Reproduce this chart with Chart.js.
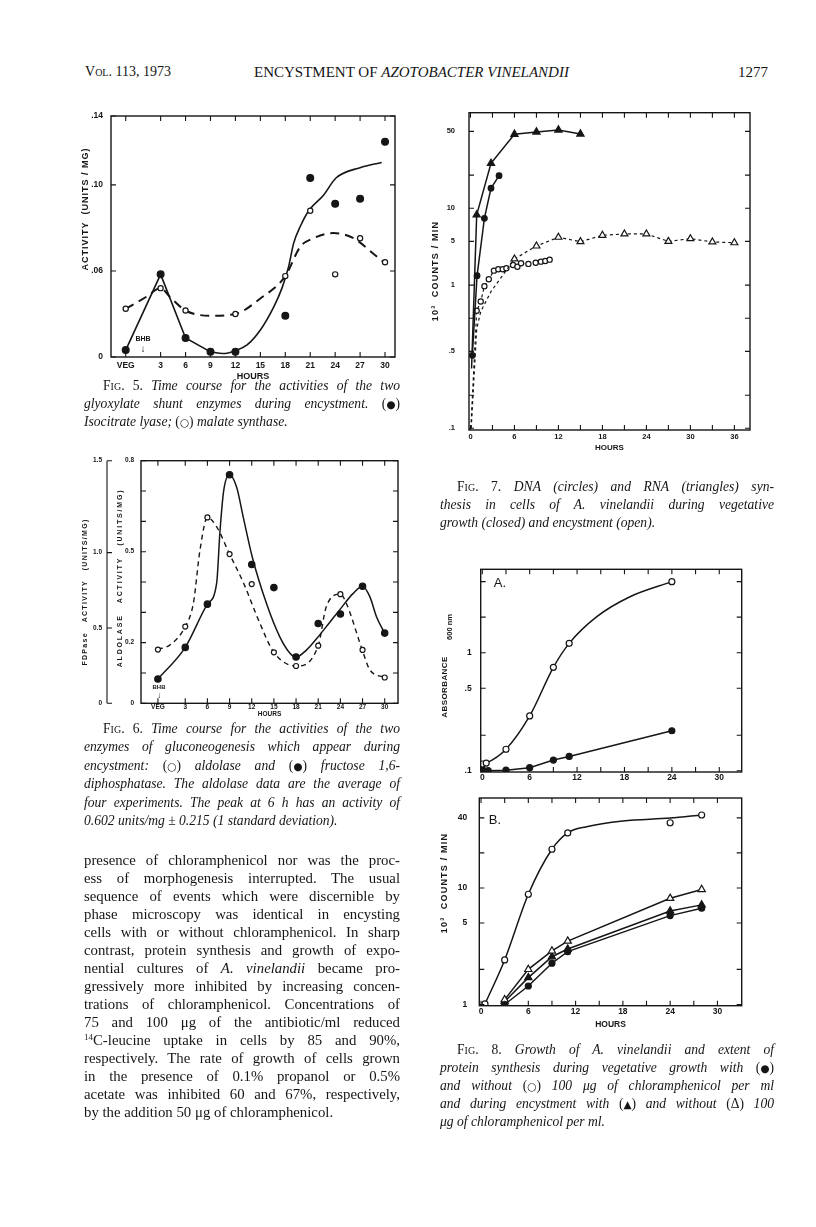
<!DOCTYPE html>
<html>
<head>
<meta charset="utf-8">
<title>Encystment of Azotobacter vinelandii, Figs. 5-8</title>
<script src="https://cdn.jsdelivr.net/npm/chart.js"></script>
<style>
  html, body { margin: 0; padding: 0; background: #fff; }
  #page { position: relative; width: 816px; height: 1227px; overflow: hidden; background: #fff;
          color: #151515; font-family: 'Liberation Serif', 'DejaVu Serif', serif; }
  #page canvas { position: absolute; left: 0; top: 0; }
  .blk { position: absolute; }
  .blk > div { text-align: justify; text-align-last: justify; white-space: nowrap; }
  .blk > div.end { text-align-last: left; }
  .body { font-size: 14.8px; line-height: 18px; }
  .cap { font-size: 13.6px; line-height: 18px; font-style: italic; }
  .cap .r { font-style: normal; }
  .key { display: inline-block; font-style: normal; }
  .sym { font-family: 'DejaVu Sans', sans-serif; font-style: normal; font-size: 10.5px; }
  .sc { font-variant: small-caps; }
  sup { font-size: 9px; line-height: 0; vertical-align: 5px; }
  .hdr { position: absolute; top: 63px; font-size: 14px; line-height: 18px; white-space: nowrap; }
</style>
</head>
<body>
<div id="page">
  <div class="hdr" style="left:85px">V<span class="sc">ol</span>. 113, 1973</div>
  <div class="hdr" style="left:254px;font-size:15px">ENCYSTMENT OF <i>AZOTOBACTER VINELANDII</i></div>
  <div class="hdr" style="left:738px;font-size:15px">1277</div>

  <canvas id="fig5" width="816" height="1227"></canvas>
  <canvas id="fig6" width="816" height="1227"></canvas>
  <canvas id="fig7" width="816" height="1227"></canvas>
  <canvas id="fig8a" width="816" height="1227"></canvas>
  <canvas id="fig8b" width="816" height="1227"></canvas>

  <div class="blk cap" style="left:84px;top:377px;width:316px">
    <div style="padding-left:19px"><span class="r">F<span class="sc">ig</span>. 5.</span> Time course for the activities of the two</div>
    <div>glyoxylate shunt enzymes during encystment. <span class="key">(<span class="sym">●</span>)</span></div>
    <div class="end">Isocitrate lyase; <span class="key">(<span class="sym">○</span>)</span> malate synthase.</div>
  </div>

  <div class="blk cap" style="left:84px;top:720px;width:316px;line-height:18.4px">
    <div style="padding-left:19px"><span class="r">F<span class="sc">ig</span>. 6.</span> Time course for the activities of the two</div>
    <div>enzymes of gluconeogenesis which appear during</div>
    <div>encystment: <span class="key">(<span class="sym">○</span>)</span> aldolase and <span class="key">(<span class="sym">●</span>)</span> fructose 1,6-</div>
    <div>diphosphatase. The aldolase data are the average of</div>
    <div>four experiments. The peak at 6 h has an activity of</div>
    <div class="end">0.602 units/mg ± 0.215 (1 standard deviation).</div>
  </div>

  <div class="blk body" style="left:84px;top:851px;width:316px">
    <div>presence of chloramphenicol nor was the proc-</div>
    <div>ess of morphogenesis interrupted. The usual</div>
    <div>sequence of events which were discernible by</div>
    <div>phase microscopy was identical in encysting</div>
    <div>cells with or without chloramphenicol. In sharp</div>
    <div>contrast, protein synthesis and growth of expo-</div>
    <div>nential cultures of <i>A. vinelandii</i> became pro-</div>
    <div>gressively more inhibited by increasing concen-</div>
    <div>trations of chloramphenicol. Concentrations of</div>
    <div>75 and 100 μg of the antibiotic/ml reduced</div>
    <div><sup>14</sup>C-leucine uptake in cells by 85 and 90%,</div>
    <div>respectively. The rate of growth of cells grown</div>
    <div>in the presence of 0.1% propanol or 0.5%</div>
    <div>acetate was inhibited 60 and 67%, respectively,</div>
    <div class="end">by the addition 50 μg of chloramphenicol.</div>
  </div>

  <div class="blk cap" style="left:440px;top:478px;width:334px">
    <div style="padding-left:17px"><span class="r">F<span class="sc">ig</span>. 7.</span> DNA (circles) and RNA (triangles) syn-</div>
    <div>thesis in cells of A. vinelandii during vegetative</div>
    <div class="end">growth (closed) and encystment (open).</div>
  </div>

  <div class="blk cap" style="left:440px;top:1041px;width:334px">
    <div style="padding-left:17px"><span class="r">F<span class="sc">ig</span>. 8.</span> Growth of A. vinelandii and extent of</div>
    <div>protein synthesis during vegetative growth with <span class="key">(<span class="sym">●</span>)</span></div>
    <div>and without <span class="key">(<span class="sym">○</span>)</span> 100 μg of chloramphenicol per ml</div>
    <div>and during encystment with <span class="key">(<span class="sym">▲</span>)</span> and without <span class="key">(Δ)</span> 100</div>
    <div class="end">μg of chloramphenicol per ml.</div>
  </div>
</div>

<script>
// ── Fig. 5 — isocitrate lyase (closed) / malate synthase (open) ──────────
const f5XTicks  = [-1.2, 3, 6, 9, 12, 15, 18, 21, 24, 27, 30];
const f5XLabels = ['VEG', '3', '6', '9', '12', '15', '18', '21', '24', '27', '30'];
const f5YTicks  = [0, 0.05, 0.10, 0.14];
const f5YLabels = ['0', '.06', '.10', '.14'];
const f5LyaseH  = [-1.2, 3, 6, 9, 12, 18, 21, 24, 27, 30];
const f5Lyase   = [0.004, 0.048, 0.011, 0.003, 0.003, 0.024, 0.104, 0.089, 0.092, 0.125];
const f5SynthH  = [-1.2, 3, 6, 12, 18, 21, 24, 27, 30];
const f5Synth   = [0.028, 0.040, 0.027, 0.025, 0.047, 0.085, 0.048, 0.069, 0.055];
// hand-drawn curves
const f5LyaseSegH = [-1.2, 3, 6, 9];
const f5LyaseSeg  = [0.004, 0.048, 0.011, 0.003];
const f5LyaseFitH = [9, 10.5, 12, 13.4, 15, 16.6, 17.6, 18.4, 19, 19.8, 20.9, 22.6, 24.1, 27, 29.6];
const f5LyaseFit  = [0.003, 0.002, 0.0037, 0.007, 0.0157, 0.029, 0.040, 0.0525, 0.066, 0.0758, 0.0855, 0.094, 0.104, 0.110, 0.113];
const f5SynthFitH = [-1.2, 1.3, 3, 4.1, 6, 9, 12, 15, 18, 19.8, 21.4, 23.8, 26.2, 28.6, 30];
const f5SynthFit  = [0.028, 0.035, 0.040, 0.035, 0.027, 0.024, 0.025, 0.034, 0.047, 0.064, 0.069, 0.072, 0.069, 0.060, 0.0545];

// ── Fig. 6 — aldolase (open, inner axis) / FDPase (closed, outer axis) ──
const f6XTicks   = [-0.7, 3, 6, 9, 12, 15, 18, 21, 24, 27, 30];
const f6XLabels  = ['VEG', '3', '6', '9', '12', '15', '18', '21', '24', '27', '30'];
const f6YTicks   = [0, 0.1, 0.2, 0.3, 0.4, 0.5, 0.6, 0.7, 0.8];
const f6YLabels  = ['0', '', '0.2', '', '', '0.5', '', '', '0.8'];
const f6Y2Ticks  = [0, 0.5, 1.0, 1.61];
const f6Y2Labels = ['0', '0.5', '1.0', '1.5'];
const f6Hours    = [-0.7, 3, 6, 9, 12, 15, 18, 21, 24, 27, 30];
const f6Aldolase = [0.177, 0.253, 0.613, 0.492, 0.393, 0.168, 0.123, 0.19, 0.36, 0.176, 0.085];
const f6Fdpase   = [0.161, 0.371, 0.658, 1.517, 0.921, 0.768, 0.307, 0.530, 0.593, 0.777, 0.466];
const f6AldFitH  = [-0.7, 0.9, 3, 4.1, 5.0, 6, 7.25, 9, 10.9, 13.1, 15, 18, 21, 22.1, 24, 24.8, 27, 28, 30];
const f6AldFit   = [0.178, 0.192, 0.253, 0.33, 0.506, 0.613, 0.582, 0.492, 0.396, 0.264, 0.168, 0.123, 0.19, 0.319, 0.36, 0.33, 0.173, 0.11, 0.085];
const f6FdpFitH  = [-0.7, 3, 6, 7.25, 7.7, 8.2, 9, 9.96, 10.85, 12.07, 14.0, 15.8, 17.2, 18, 19.4, 20.8, 22.6, 23.9, 25.7, 27, 28, 28.9, 30];
const f6FdpFit   = [0.161, 0.371, 0.658, 0.797, 1.14, 1.41, 1.517, 1.434, 1.236, 0.971, 0.662, 0.441, 0.331, 0.307, 0.353, 0.43, 0.54, 0.62, 0.728, 0.777, 0.706, 0.573, 0.466];

// ── Fig. 7 — DNA (circles) / RNA (triangles), 10^3 counts/min ───────────
const f7XTicks  = [0, 3, 6, 9, 12, 15, 18, 21, 24, 27, 30, 33, 36];
const f7XLabels = ['0', '', '6', '', '12', '', '18', '', '24', '', '30', '', '36'];
const f7YTicks  = [0.1, 0.2, 0.5, 1, 2, 5, 10, 20, 50];
const f7YLabels = ['.1', '', '.5', '', '1', '5', '10', '', '50'];
const f7RnaVegH = [0.15, 0.85, 2.8, 6, 9, 12, 15];
const f7RnaVeg  = [0.35, 8.7, 25.6, 47.1, 49.4, 51.5, 47.3];
const f7DnaVegH = [0.25, 0.9, 1.9, 2.8, 3.9];
const f7DnaVeg  = [0.46, 2.44, 8.1, 15.2, 19.8];
const f7RnaEncH = [0.1, 0.85, 1.4, 2.8, 6, 9, 12, 15, 18, 21, 24, 27, 30, 33, 36];
const f7RnaEnc  = [0.1, 0.8, 1.15, 1.75, 3.46, 4.54, 5.45, 4.97, 5.68, 5.84, 5.84, 5.0, 5.29, 4.94, 4.86];
const f7DnaEncH = [0.05, 0.85, 1.4, 1.9, 2.5, 3.2, 3.8, 4.4, 4.9, 5.8, 6.4, 6.9, 7.9, 8.9, 9.6, 10.2, 10.8];
const f7DnaEnc  = [0.1, 1.17, 1.42, 1.96, 2.26, 2.71, 2.79, 2.79, 2.85, 3.05, 2.94, 3.16, 3.12, 3.2, 3.27, 3.32, 3.41];

// ── Fig. 8 — A: absorbance, B: protein synthesis ────────────────────────
const f8XTicks  = [0, 3, 6, 9, 12, 15, 18, 21, 24, 27, 30];
const f8XLabels = ['0', '', '6', '', '12', '', '18', '', '24', '', '30'];
const f8aYTicks  = [0.1, 0.2, 0.5, 1, 2, 4];
const f8aYLabels = ['.1', '', '.5', '1', '', ''];
const f8aOpenH   = [0, 0.5, 3, 6, 9, 11, 24];
const f8aOpen    = [0.114, 0.116, 0.152, 0.291, 0.752, 1.2, 4.0];
const f8aOpenFitH = [0, 0.5, 3, 6, 9, 11, 14.5, 18.7, 24];
const f8aOpenFit  = [0.114, 0.116, 0.152, 0.291, 0.752, 1.2, 2.02, 2.98, 4.0];
const f8aClosedH = [0, 0.75, 3, 6, 9, 11, 24];
const f8aClosed  = [0.103, 0.1, 0.101, 0.106, 0.123, 0.132, 0.218];
const f8bYTicks  = [1, 2, 5, 10, 20, 40];
const f8bYLabels = ['1', '', '5', '10', '', '40'];
const f8bOpenH   = [0.5, 3, 6, 9, 11, 24, 28];
const f8bOpen    = [1.01, 2.41, 8.83, 21.5, 29.7, 36.3, 42.3];
const f8bOpenFitH = [0.5, 3, 6, 9, 11, 13.4, 18, 24, 28];
const f8bOpenFit  = [1.01, 2.41, 8.83, 21.5, 29.7, 33.6, 37.6, 39.8, 42.3];
const f8bHours     = [3, 6, 9, 11, 24, 28];
const f8bOpenTri   = [1.1, 2.0, 2.88, 3.5, 8.15, 9.7];
const f8bClosedTri = [1.06, 1.7, 2.57, 2.99, 6.35, 7.16];
const f8bClosed    = [1.0, 1.44, 2.26, 2.84, 5.79, 6.7];

// ── Shared styling ──────────────────────────────────────────────────────
const INK  = '#161616';
const SANS = "'Liberation Sans', 'DejaVu Sans', sans-serif";
Chart.defaults.font.family = SANS;
Chart.defaults.color = INK;

function xy(xs, ys) { return xs.map((x, i) => ({ x, y: ys[i] })); }

// axis with a fixed set of ticks; labels[i] belongs to values[i]
function axis(type, min, max, values, labels, o) {
  return {
    type, min, max,
    position: o.position,
    weight: o.weight || 0,
    grid:   { display: false, drawTicks: false },
    border: { display: false },
    afterBuildTicks: s => { s.ticks = values.map(v => ({ value: v })); },
    afterFit: s => {
      if (o.w != null) s.width = o.w;
      if (o.h != null) s.height = o.h;
    },
    ticks: {
      autoSkip: false, maxRotation: 0, minRotation: 0,
      padding: o.pad, color: INK,
      font: { size: o.size, weight: 'bold', family: SANS },
      callback: (v, i) => labels[i],
    },
    title: o.title
      ? { display: true, text: o.title, color: INK, padding: { top: 0, bottom: 0 },
          font: { size: o.titleSize || o.size, weight: 'bold', family: SANS } }
      : { display: false },
  };
}

function marks(data, o) {
  return {
    data, showLine: !!o.line,
    borderColor: INK, borderWidth: o.lw || 1.5, borderDash: o.dash || [],
    pointStyle: o.style || 'circle',
    pointRadius: o.skip ? (c => c.dataIndex < o.skip ? 0 : o.r) : o.r,
    pointBorderWidth: 1.2,
    pointBorderColor: INK,
    pointBackgroundColor: o.filled ? INK : '#fff',
    yAxisID: o.yAxisID || 'y',
  };
}

function curve(data, o = {}) {
  return {
    data, showLine: true, pointRadius: 0,
    borderColor: INK, borderWidth: o.lw || 1.6, borderDash: o.dash || [],
    cubicInterpolationMode: o.straight ? 'default' : 'monotone',
    yAxisID: o.yAxisID || 'y',
  };
}

// ── Frame, inward tick marks and free-standing labels ───────────────────
const framePlugin = {
  id: 'frame',
  afterDraw(chart, args, opts) {
    const { ctx, chartArea: a } = chart;
    const len = 5;
    ctx.save();
    ctx.strokeStyle = INK;
    ctx.lineWidth = 1.4;
    ctx.strokeRect(a.left, a.top, a.right - a.left, a.bottom - a.top);
    ctx.lineWidth = 1.1;
    const m = opts.marks || {};
    Object.keys(m).forEach(id => {
      const s = chart.scales[id];
      const sides = m[id];
      ctx.beginPath();
      if (sides.includes('outer')) { ctx.moveTo(s.right, s.top); ctx.lineTo(s.right, s.bottom); }
      s.ticks.forEach(t => {
        const p = s.getPixelForValue(t.value);
        sides.forEach(side => {
          if (side === 'bottom') { ctx.moveTo(p, a.bottom); ctx.lineTo(p, a.bottom - len); }
          if (side === 'top')    { ctx.moveTo(p, a.top);    ctx.lineTo(p, a.top + len); }
          if (side === 'left')   { ctx.moveTo(a.left, p);   ctx.lineTo(a.left + len, p); }
          if (side === 'right')  { ctx.moveTo(a.right, p);  ctx.lineTo(a.right - len, p); }
          if (side === 'outer')  { ctx.moveTo(s.right, p);  ctx.lineTo(s.right + len, p); }
        });
      });
      ctx.stroke();
    });
    (opts.notes || []).forEach(n => {
      ctx.save();
      ctx.translate(n.x, n.y);
      if (n.rot) ctx.rotate(n.rot * Math.PI / 180);
      ctx.font = n.font;
      if ('letterSpacing' in ctx) ctx.letterSpacing = n.spacing || '0px';
      ctx.fillStyle = INK;
      ctx.textAlign = 'center';
      ctx.textBaseline = 'middle';
      ctx.fillText(n.text, 0, 0);
      ctx.restore();
    });
    ctx.restore();
  }
};

// every canvas covers the whole page; padding places the plot area
function make(id, area, yw, xh, datasets, scales, frame) {
  return new Chart(document.getElementById(id), {
    type: 'scatter',
    data: { datasets },
    options: {
      responsive: false, animation: false, events: [],
      layout: { padding: { left: area.l - yw, top: area.t, right: 816 - area.r, bottom: 1227 - area.b - xh } },
      scales,
      plugins: { legend: { display: false }, tooltip: { enabled: false }, frame },
    },
    plugins: [framePlugin],
  });
}

const bold = px => `bold ${px}px ${SANS}`;

// ── Fig. 5 ──────────────────────────────────────────────────────────────
make('fig5', { l: 111, t: 116, r: 395, b: 357 }, 33, 25, [
  marks(xy(f5LyaseH, f5Lyase), { r: 3.4, filled: true }),
  marks(xy(f5SynthH, f5Synth), { r: 2.6 }),
  curve(xy(f5LyaseSegH, f5LyaseSeg), { straight: true }),
  curve(xy(f5LyaseFitH, f5LyaseFit)),
  curve(xy(f5SynthFitH, f5SynthFit), { dash: [9, 6], lw: 2 }),
], {
  x: axis('linear', -2.97, 31.2, f5XTicks, f5XLabels, { position: 'bottom', h: 25, pad: 4, size: 8.5, title: 'HOURS', titleSize: 9 }),
  y: axis('linear', 0, 0.14, f5YTicks, f5YLabels, { position: 'left', w: 33, pad: 8, size: 8.5 }),
}, {
  marks: { x: ['bottom', 'top'], y: ['left', 'right'] },
  notes: [
    { text: 'ACTIVITY  (UNITS / MG)', x: 86, y: 209, rot: -90, font: bold(9), spacing: '1px' },
    { text: 'BHB', x: 143, y: 339, font: bold(7) },
    { text: '↓', x: 143, y: 349, font: bold(10) },
  ],
});

// ── Fig. 6 ──────────────────────────────────────────────────────────────
make('fig6', { l: 141, t: 460.7, r: 398, b: 703.3 }, 61, 14.5, [
  marks(xy(f6Hours, f6Fdpase), { r: 3.2, filled: true, yAxisID: 'y2' }),
  marks(xy(f6Hours, f6Aldolase), { r: 2.5 }),
  curve(xy(f6FdpFitH, f6FdpFit), { yAxisID: 'y2', lw: 1.5 }),
  curve(xy(f6AldFitH, f6AldFit), { dash: [5, 4], lw: 1.4 }),
], {
  x:  axis('linear', -2.99, 31.8, f6XTicks, f6XLabels, { position: 'bottom', h: 14.5, pad: 0, size: 6.5, title: 'HOURS' }),
  y:  axis('linear', 0, 0.8, f6YTicks, f6YLabels, { position: 'left', w: 34, pad: 7, size: 6.5, weight: 0 }),
  y2: axis('linear', 0, 1.61, f6Y2Ticks, f6Y2Labels, { position: 'left', w: 27, pad: 5, size: 6.5, weight: 1 }),
}, {
  marks: { x: ['bottom', 'top'], y: ['left', 'right'], y2: ['outer'] },
  notes: [
    { text: 'FDPase   ACTIVITY   (UNITS/MG)', x: 85, y: 592, rot: -90, font: bold(7), spacing: '1.3px' },
    { text: 'ALDOLASE   ACTIVITY   (UNITS/MG)', x: 120, y: 578, rot: -90, font: bold(7), spacing: '1.8px' },
    { text: 'BHB', x: 159, y: 687, font: bold(6) },
    { text: '↓', x: 159, y: 696, font: bold(8) },
  ],
});

// ── Fig. 7 ──────────────────────────────────────────────────────────────
make('fig7', { l: 469, t: 112.7, r: 750, b: 430 }, 38, 23, [
  marks(xy(f7RnaVegH, f7RnaVeg), { r: 4.2, filled: true, style: 'triangle', line: true, skip: 1 }),
  marks(xy(f7DnaVegH, f7DnaVeg), { r: 2.8, filled: true, line: true }),
  marks(xy(f7RnaEncH, f7RnaEnc), { r: 4, style: 'triangle', line: true, skip: 4, dash: [3, 3], lw: 1.2 }),
  marks(xy(f7DnaEncH, f7DnaEnc), { r: 2.6, line: true, skip: 1, dash: [3, 3], lw: 1.2 }),
], {
  x: axis('linear', -0.2, 38.13, f7XTicks, f7XLabels, { position: 'bottom', h: 23, pad: 2, size: 7.5, title: 'HOURS', titleSize: 8 }),
  y: axis('logarithmic', 0.0965, 73.9, f7YTicks, f7YLabels, { position: 'left', w: 38, pad: 14, size: 7.5 }),
}, {
  marks: { x: ['bottom', 'top'], y: ['left', 'right'] },
  notes: [
    { text: '10³  COUNTS / MIN', x: 436, y: 271, rot: -90, font: bold(9), spacing: '1.2px' },
  ],
});

// ── Fig. 8A ─────────────────────────────────────────────────────────────
make('fig8a', { l: 480.7, t: 569.3, r: 741.7, b: 772 }, 40, 15, [
  marks(xy(f8aOpenH, f8aOpen), { r: 3 }),
  marks(xy(f8aClosedH, f8aClosed), { r: 3, filled: true, line: true }),
  curve(xy(f8aOpenFitH, f8aOpenFit), { lw: 1.5 }),
], {
  x: axis('linear', -0.2, 32.84, f8XTicks, f8XLabels, { position: 'bottom', h: 15, pad: 1, size: 8.5 }),
  y: axis('logarithmic', 0.0975, 5.09, f8aYTicks, f8aYLabels, { position: 'left', w: 40, pad: 9, size: 8.5 }),
}, {
  marks: { x: ['bottom', 'top'], y: ['left', 'right'] },
  notes: [
    { text: 'ABSORBANCE', x: 445, y: 687, rot: -90, font: bold(8), spacing: '0.4px' },
    { text: '600 nm', x: 449.5, y: 627, rot: -90, font: bold(7.5) },
    { text: 'A.', x: 500, y: 583, font: `13px ${SANS}` },
  ],
});

// ── Fig. 8B ─────────────────────────────────────────────────────────────
make('fig8b', { l: 479.3, t: 798, r: 741.7, b: 1005.7 }, 40, 23.7, [
  marks(xy(f8bOpenH, f8bOpen), { r: 3 }),
  marks(xy(f8bHours, f8bOpenTri), { r: 4.2, style: 'triangle', line: true }),
  marks(xy(f8bHours, f8bClosedTri), { r: 4.2, style: 'triangle', filled: true, line: true }),
  marks(xy(f8bHours, f8bClosed), { r: 3, filled: true, line: true }),
  curve(xy(f8bOpenFitH, f8bOpenFit), { lw: 1.5 }),
], {
  x: axis('linear', -0.22, 33.08, f8XTicks, f8XLabels, { position: 'bottom', h: 23.7, pad: 1, size: 8.5, title: 'HOURS', titleSize: 8.5 }),
  y: axis('logarithmic', 0.976, 59.2, f8bYTicks, f8bYLabels, { position: 'left', w: 40, pad: 12, size: 8.5 }),
}, {
  marks: { x: ['bottom', 'top'], y: ['left', 'right'] },
  notes: [
    { text: '10³  COUNTS / MIN', x: 445, y: 883, rot: -90, font: bold(9), spacing: '1.2px' },
    { text: 'B.', x: 495, y: 820, font: `13px ${SANS}` },
  ],
});
</script>
</body>
</html>
